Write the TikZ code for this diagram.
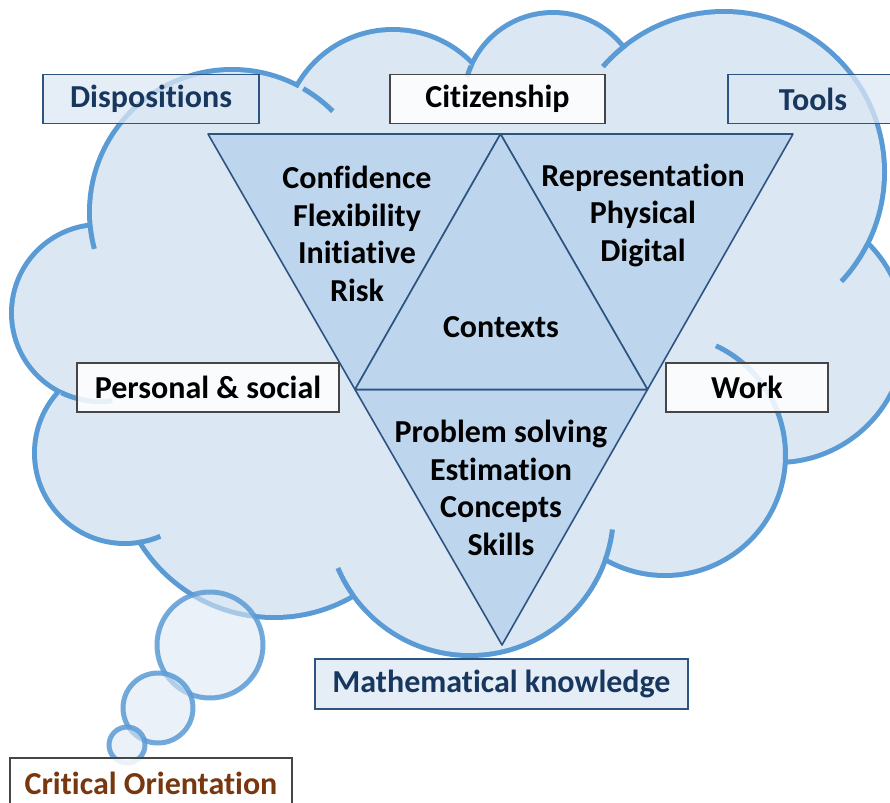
\documentclass[tikz,border=0pt]{standalone}
\usepackage{fontspec}
\setmainfont{Carlito}[RawFeature={-liga;-clig;-dlig;-calt;-rlig;-ccmp}]
\definecolor{cloudfill}{RGB}{220,231,244}
\definecolor{cloudline}{RGB}{91,155,213}
\definecolor{trifill}{RGB}{189,214,238}
\definecolor{triline}{RGB}{46,84,130}
\definecolor{boxline}{RGB}{70,70,70}
\definecolor{navytext}{RGB}{23,55,94}
\definecolor{browntext}{RGB}{120,55,15}
\tikzset{
  itemtext/.style={font=\fontsize{16}{18.75}\selectfont\bfseries, align=center},
  tagbox/.style={itemtext, line width=0.75pt, inner sep=0pt, minimum height=24.5pt, text opacity=1},
  whitebox/.style={tagbox, draw=boxline, fill=white, fill opacity=0.85},
  bluebox/.style={tagbox, draw=triline, fill=cloudfill, fill opacity=0.75, text=navytext},
  lobe/.style={draw=cloudline, line width=5pt},
  hook/.style={draw=cloudline, line width=2.5pt},
  part/.style={fill=trifill, draw=triline, line width=0.8pt, line join=round},
  bubble/.style={fill=cloudfill, fill opacity=0.6, draw=cloudline, draw opacity=0.85, line width=2.5pt},
}
\begin{document}
\begin{tikzpicture}[x=0.5pt, y=-0.5pt]
\clip (0,0) rectangle (890,803);
% cloud: thick rims first, filled over so only the outer edge stays
\foreach \x/\y/\r in {100/313/86, 232/212/140, 393/140/108, 553/102/87, 724/172/158,
                      777/334/126, 665/455/118, 470/512/141, 274/460/155, 125/453/88}
  \draw[lobe] (\x,\y) circle (\r);
\foreach \x/\y/\r in {100/313/86, 232/212/140, 393/140/108, 553/102/87, 724/172/158,
                      777/334/126, 665/455/118, 470/512/141, 274/460/155, 125/453/88}
  \fill[cloudfill] (\x,\y) circle (\r);
\fill[cloudfill] (100,313) -- (232,212) -- (393,140) -- (553,102) -- (724,172)
  -- (777,334) -- (665,455) -- (470,512) -- (274,460) -- (125,453) -- cycle;
% hooks of the lobes
\foreach \x/\y/\r/\a/\b in {232/212/140/-60/-45, 232/212/140/165/174, 553/102/87/196/204,
                            724/172/158/221/232, 724/172/158/27/43, 665/455/118/-65/3,
                            470/512/141/7/20, 470/512/141/145/157, 125/453/88/67/82, 100/313/86/82/116}
  \draw[hook] (\x,\y) ++(\a:\r+2.5) arc[start angle=\a, end angle=\b, radius=\r+2.5];

% thought bubbles
\filldraw[bubble] (210,645) circle (53);
\filldraw[bubble] (158,708) circle (35);
\filldraw[bubble] (127,745) circle (18);

% the triangle
\coordinate (TL) at (208,134);
\coordinate (TM) at (500.5,134);
\coordinate (TR) at (793,134);
\coordinate (ML) at (355,389.5);
\coordinate (MR) at (647.5,389.5);
\coordinate (BT) at (502,645);
\filldraw[part] (TL) -- (TM) -- (ML) -- cycle;
\filldraw[part] (TM) -- (TR) -- (MR) -- cycle;
\filldraw[part] (ML) -- (MR) -- (BT) -- cycle;
\filldraw[part] (TM) -- (MR) -- (ML) -- cycle;

\node[itemtext] (dispitems) at (357,234) {Confidence\\Flexibility\\Initiative\\Risk};
\node[itemtext] (toolitems) at (643,215) {Representation\\Physical\\Digital};
\node[itemtext] (context) at (501,327) {Contexts};
\node[itemtext] (mathitems) at (501,488) {Problem solving\\Estimation\\Concepts\\Skills};

% labels round the cloud
\node[bluebox, minimum width=108pt] (disp) at (151,99) {Dispositions};
\node[whitebox, minimum width=107.5pt] (citz) at (497.5,99) {Citizenship};
\node[bluebox, minimum width=85pt] (tools) at (813,99) {Tools};
\node[whitebox, minimum width=131pt] (pers) at (208,387.5) {Personal \& social};
\node[whitebox, minimum width=81pt] (work) at (747,387.5) {Work};
\node[bluebox, minimum width=186.5pt, minimum height=25pt] (math) at (501.5,684) {Mathematical knowledge};
\node[whitebox, minimum width=141pt, minimum height=25pt, text=browntext] (crit) at (151,783) {Critical Orientation};
\end{tikzpicture}
\end{document}
